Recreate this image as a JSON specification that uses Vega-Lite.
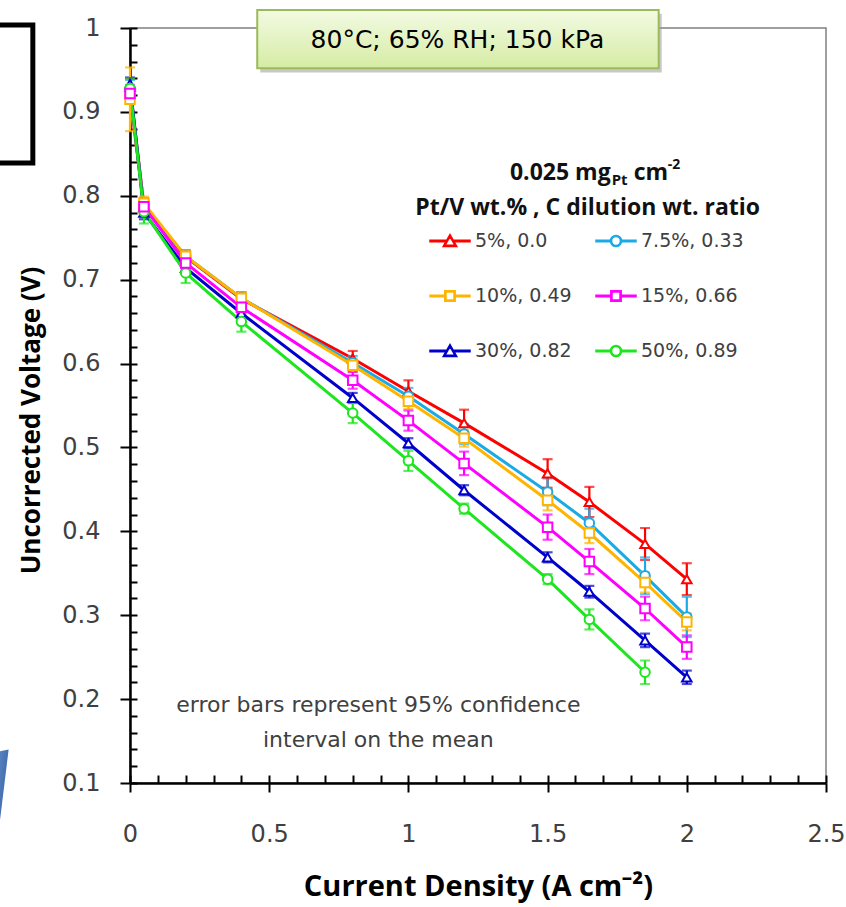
{
 "$schema": "https://vega.github.io/schema/vega-lite/v6.json",
 "width": 696, "height": 755,
 "autosize": {"type": "none"},
 "padding": {"left": 130, "top": 28, "right": 20, "bottom": 124},
 "background": "white",
 "config": {"font": "DejaVu Sans", "view": {"stroke": "#808080", "strokeWidth": 1.5}, "axis": {"grid": false}},
 "datasets": {
  "pts": [
   {"s": "5%, 0.0", "x": 0, "v": 0.93, "e": 0.01},
   {"s": "5%, 0.0", "x": 0.05, "v": 0.787, "e": 0.01},
   {"s": "5%, 0.0", "x": 0.2, "v": 0.727, "e": 0.008},
   {"s": "5%, 0.0", "x": 0.4, "v": 0.677, "e": 0.008},
   {"s": "5%, 0.0", "x": 0.8, "v": 0.606, "e": 0.009},
   {"s": "5%, 0.0", "x": 1.0, "v": 0.567, "e": 0.013},
   {"s": "5%, 0.0", "x": 1.2, "v": 0.529, "e": 0.016},
   {"s": "5%, 0.0", "x": 1.5, "v": 0.469, "e": 0.017},
   {"s": "5%, 0.0", "x": 1.65, "v": 0.435, "e": 0.018},
   {"s": "5%, 0.0", "x": 1.85, "v": 0.385, "e": 0.019},
   {"s": "5%, 0.0", "x": 2.0, "v": 0.343, "e": 0.019},
   {"s": "7.5%, 0.33", "x": 0, "v": 0.928, "e": 0.01},
   {"s": "7.5%, 0.33", "x": 0.05, "v": 0.788, "e": 0.008},
   {"s": "7.5%, 0.33", "x": 0.2, "v": 0.728, "e": 0.007},
   {"s": "7.5%, 0.33", "x": 0.4, "v": 0.678, "e": 0.007},
   {"s": "7.5%, 0.33", "x": 0.8, "v": 0.601, "e": 0.008},
   {"s": "7.5%, 0.33", "x": 1.0, "v": 0.561, "e": 0.01},
   {"s": "7.5%, 0.33", "x": 1.2, "v": 0.516, "e": 0.012},
   {"s": "7.5%, 0.33", "x": 1.5, "v": 0.447, "e": 0.016},
   {"s": "7.5%, 0.33", "x": 1.65, "v": 0.41, "e": 0.017},
   {"s": "7.5%, 0.33", "x": 1.85, "v": 0.347, "e": 0.022},
   {"s": "7.5%, 0.33", "x": 2.0, "v": 0.298, "e": 0.024},
   {"s": "10%, 0.49", "x": 0, "v": 0.915, "e": 0.038},
   {"s": "10%, 0.49", "x": 0.05, "v": 0.791, "e": 0.008},
   {"s": "10%, 0.49", "x": 0.2, "v": 0.728, "e": 0.007},
   {"s": "10%, 0.49", "x": 0.4, "v": 0.678, "e": 0.007},
   {"s": "10%, 0.49", "x": 0.8, "v": 0.598, "e": 0.008},
   {"s": "10%, 0.49", "x": 1.0, "v": 0.555, "e": 0.009},
   {"s": "10%, 0.49", "x": 1.2, "v": 0.511, "e": 0.01},
   {"s": "10%, 0.49", "x": 1.5, "v": 0.437, "e": 0.012},
   {"s": "10%, 0.49", "x": 1.65, "v": 0.398, "e": 0.012},
   {"s": "10%, 0.49", "x": 1.85, "v": 0.339, "e": 0.012},
   {"s": "10%, 0.49", "x": 2.0, "v": 0.292, "e": 0.01},
   {"s": "15%, 0.66", "x": 0, "v": 0.922, "e": 0.01},
   {"s": "15%, 0.66", "x": 0.05, "v": 0.787, "e": 0.008},
   {"s": "15%, 0.66", "x": 0.2, "v": 0.72, "e": 0.007},
   {"s": "15%, 0.66", "x": 0.4, "v": 0.667, "e": 0.008},
   {"s": "15%, 0.66", "x": 0.8, "v": 0.58, "e": 0.01},
   {"s": "15%, 0.66", "x": 1.0, "v": 0.532, "e": 0.012},
   {"s": "15%, 0.66", "x": 1.2, "v": 0.481, "e": 0.014},
   {"s": "15%, 0.66", "x": 1.5, "v": 0.405, "e": 0.015},
   {"s": "15%, 0.66", "x": 1.65, "v": 0.364, "e": 0.015},
   {"s": "15%, 0.66", "x": 1.85, "v": 0.308, "e": 0.014},
   {"s": "15%, 0.66", "x": 2.0, "v": 0.262, "e": 0.014},
   {"s": "30%, 0.82", "x": 0, "v": 0.933, "e": 0.008},
   {"s": "30%, 0.82", "x": 0.05, "v": 0.78, "e": 0.008},
   {"s": "30%, 0.82", "x": 0.2, "v": 0.714, "e": 0.006},
   {"s": "30%, 0.82", "x": 0.4, "v": 0.66, "e": 0.006},
   {"s": "30%, 0.82", "x": 0.8, "v": 0.559, "e": 0.006},
   {"s": "30%, 0.82", "x": 1.0, "v": 0.505, "e": 0.006},
   {"s": "30%, 0.82", "x": 1.2, "v": 0.449, "e": 0.006},
   {"s": "30%, 0.82", "x": 1.5, "v": 0.369, "e": 0.006},
   {"s": "30%, 0.82", "x": 1.65, "v": 0.328, "e": 0.007},
   {"s": "30%, 0.82", "x": 1.85, "v": 0.27, "e": 0.008},
   {"s": "30%, 0.82", "x": 2.0, "v": 0.226, "e": 0.008},
   {"s": "50%, 0.89", "x": 0, "v": 0.928, "e": 0.012},
   {"s": "50%, 0.89", "x": 0.05, "v": 0.781, "e": 0.014},
   {"s": "50%, 0.89", "x": 0.2, "v": 0.708, "e": 0.012},
   {"s": "50%, 0.89", "x": 0.4, "v": 0.65, "e": 0.012},
   {"s": "50%, 0.89", "x": 0.8, "v": 0.541, "e": 0.012},
   {"s": "50%, 0.89", "x": 1.0, "v": 0.484, "e": 0.012},
   {"s": "50%, 0.89", "x": 1.2, "v": 0.427, "e": 0.006},
   {"s": "50%, 0.89", "x": 1.5, "v": 0.343, "e": 0.006},
   {"s": "50%, 0.89", "x": 1.65, "v": 0.295, "e": 0.012},
   {"s": "50%, 0.89", "x": 1.85, "v": 0.232, "e": 0.014}
  ]
 },
 "layer": [
  {
   "data": {"name": "pts"},
   "transform": [{"filter": "false"}],
   "mark": {"type": "point", "filled": true, "fill": "white", "strokeWidth": 1.5, "opacity": 1},
   "encoding": {
    "x": {"field": "x", "type": "quantitative", "scale": {"domain": [0, 2.5], "nice": false, "zero": false}, "axis": null},
    "y": {"field": "v", "type": "quantitative", "scale": {"domain": [0.1, 1], "nice": false, "zero": false}, "axis": null},
    "stroke": {"field": "s", "type": "nominal", "scale": {"domain": ["5%, 0.0", "7.5%, 0.33", "10%, 0.49", "15%, 0.66", "30%, 0.82", "50%, 0.89"], "range": ["#ff0000", "#1aaae6", "#ffb400", "#ff00ff", "#0000cc", "#1ee61e"]},
     "legend": {"orient": "none", "legendX": 299, "legendY": 192, "direction": "horizontal", "columns": 2, "title": null, "symbolSize": 1600, "symbolStrokeWidth": 1.5, "symbolOpacity": 1, "labelFont": "DejaVu Sans", "labelFontSize": 19, "labelColor": "#404040", "labelOffset": 4, "columnPadding": 21, "rowPadding": 24, "padding": 0}},
    "shape": {"field": "s", "type": "nominal",
     "scale": {"domain": ["5%, 0.0", "7.5%, 0.33", "10%, 0.49", "15%, 0.66", "30%, 0.82", "50%, 0.89"], "range": [
      "M-1,-0.035H-0.18V0.035H-1ZM0.18,-0.035H1V0.035H0.18ZM0,-0.32L0.34,0.27H-0.34ZM0,-0.22L-0.25,0.215H0.25Z",
      "M-1,-0.035H-0.28V0.035H-1ZM0.28,-0.035H1V0.035H0.28ZM0.28,0A0.28,0.28 0 1,1 -0.28,0A0.28,0.28 0 1,1 0.28,0ZM0.22,0A0.22,0.22 0 1,0 -0.22,0A0.22,0.22 0 1,0 0.22,0Z",
      "M-1,-0.035H-0.26V0.035H-1ZM0.26,-0.035H1V0.035H0.26ZM-0.26,-0.26H0.26V0.26H-0.26ZM-0.2,-0.2V0.2H0.2V-0.2Z",
      "M-1,-0.035H-0.26V0.035H-1ZM0.26,-0.035H1V0.035H0.26ZM-0.26,-0.26H0.26V0.26H-0.26ZM-0.2,-0.2V0.2H0.2V-0.2Z",
      "M-1,-0.035H-0.18V0.035H-1ZM0.18,-0.035H1V0.035H0.18ZM0,-0.32L0.34,0.27H-0.34ZM0,-0.22L-0.25,0.215H0.25Z",
      "M-1,-0.035H-0.28V0.035H-1ZM0.28,-0.035H1V0.035H0.28ZM0.28,0A0.28,0.28 0 1,1 -0.28,0A0.28,0.28 0 1,1 0.28,0ZM0.22,0A0.22,0.22 0 1,0 -0.22,0A0.22,0.22 0 1,0 0.22,0Z"]},
     "legend": {"orient": "none", "legendX": 299, "legendY": 192, "direction": "horizontal", "columns": 2, "title": null, "symbolSize": 1600, "symbolStrokeWidth": 1.5, "symbolOpacity": 1, "labelFont": "DejaVu Sans", "labelFontSize": 19, "labelColor": "#404040", "labelOffset": 4, "columnPadding": 21, "rowPadding": 24, "padding": 0}}
   }
  },
  {
   "data": {"name": "pts"},
   "mark": {"type": "line", "strokeWidth": 3},
   "encoding": {
    "x": {"field": "x", "type": "quantitative", "scale": {"domain": [0, 2.5], "nice": false, "zero": false},
     "axis": {"orient": "bottom", "values": [0, 0.5, 1, 1.5, 2, 2.5], "format": "~g", "tickSize": 9, "tickWidth": 2, "tickColor": "black", "domainColor": "black", "domainWidth": 2.5, "labelFontSize": 24, "labelColor": "#404040", "labelPadding": 30, "labelFlush": false, "labelOverlap": false, "title": "Current Density (A cm⁻²)", "titleFont": "Open Sans", "titleFontSize": 29, "titleFontWeight": "bold", "titleColor": "black", "titleBaseline": "alphabetic", "titleY": 112, "titleX": 348}},
    "y": {"field": "v", "type": "quantitative", "scale": {"domain": [0.1, 1], "nice": false, "zero": false},
     "axis": {"orient": "left", "values": [0.1, 0.2, 0.3, 0.4, 0.5, 0.6, 0.7, 0.8, 0.9, 1], "format": "~g", "tickSize": 10, "tickWidth": 2, "tickColor": "black", "domainColor": "black", "domainWidth": 2.5, "labelFontSize": 24, "labelColor": "#404040", "labelPadding": 20, "labelFlush": false, "labelOverlap": false, "title": "Uncorrected Voltage (V)", "titleFont": "Open Sans", "titleFontSize": 26, "titleFontWeight": "bold", "titleColor": "black", "titleX": -86, "titleY": 392}},
    "color": {"field": "s", "type": "nominal", "scale": {"domain": ["5%, 0.0", "7.5%, 0.33", "10%, 0.49", "15%, 0.66", "30%, 0.82", "50%, 0.89"], "range": ["#ff0000", "#1aaae6", "#ffb400", "#ff00ff", "#0000cc", "#1ee61e"]}, "legend": null}
   }
  },
  {
   "data": {"name": "pts"},
   "mark": {"type": "errorbar", "ticks": true, "thickness": 2.2, "size": 10},
   "encoding": {
    "x": {"field": "x", "type": "quantitative", "scale": {"domain": [0, 2.5], "nice": false, "zero": false}, "axis": null},
    "y": {"field": "v", "type": "quantitative", "scale": {"domain": [0.1, 1], "nice": false, "zero": false}, "axis": null},
    "yError": {"field": "e"},
    "color": {"field": "s", "type": "nominal", "legend": null}
   }
  },
  {
   "data": {"name": "pts"},
   "transform": [{"filter": {"field": "s", "oneOf": ["5%, 0.0", "30%, 0.82"]}}],
   "mark": {"type": "point", "shape": "triangle-up", "filled": true, "fill": "white", "strokeWidth": 2, "size": 90, "opacity": 1},
   "encoding": {
    "x": {"field": "x", "type": "quantitative", "scale": {"domain": [0, 2.5], "nice": false, "zero": false},
     "axis": {"orient": "bottom", "values": [0, 0.1, 0.2, 0.3, 0.4, 0.5, 0.6, 0.7, 0.8, 0.9, 1, 1.1, 1.2, 1.3, 1.4, 1.5, 1.6, 1.7, 1.8, 1.9, 2, 2.1, 2.2, 2.3, 2.4, 2.5], "tickSize": -8, "tickWidth": 2, "tickColor": "black", "labels": false, "domain": false, "title": null}},
    "y": {"field": "v", "type": "quantitative", "scale": {"domain": [0.1, 1], "nice": false, "zero": false},
     "axis": {"orient": "left", "values": [0.1, 0.12, 0.14, 0.16, 0.18, 0.2, 0.22, 0.24, 0.26, 0.28, 0.3, 0.32, 0.34, 0.36, 0.38, 0.4, 0.42, 0.44, 0.46, 0.48, 0.5, 0.52, 0.54, 0.56, 0.58, 0.6, 0.62, 0.64, 0.66, 0.68, 0.7, 0.72, 0.74, 0.76, 0.78, 0.8, 0.82, 0.84, 0.86, 0.88, 0.9, 0.92, 0.94, 0.96, 0.98, 1], "tickSize": -7, "tickWidth": 2, "tickColor": "black", "labels": false, "domain": false, "title": null}},
    "stroke": {"field": "s", "type": "nominal"}
   }
  },
  {
   "data": {"name": "pts"},
   "transform": [{"filter": {"field": "s", "oneOf": ["7.5%, 0.33", "50%, 0.89"]}}],
   "mark": {"type": "point", "shape": "circle", "filled": true, "fill": "white", "strokeWidth": 2, "size": 90, "opacity": 1},
   "encoding": {
    "x": {"field": "x", "type": "quantitative", "scale": {"domain": [0, 2.5], "nice": false, "zero": false}, "axis": null},
    "y": {"field": "v", "type": "quantitative", "scale": {"domain": [0.1, 1], "nice": false, "zero": false}, "axis": null},
    "stroke": {"field": "s", "type": "nominal"}
   }
  },
  {
   "data": {"name": "pts"},
   "transform": [{"filter": {"field": "s", "oneOf": ["10%, 0.49", "15%, 0.66"]}}],
   "mark": {"type": "point", "shape": "square", "filled": true, "fill": "white", "strokeWidth": 2, "size": 90, "opacity": 1},
   "encoding": {
    "x": {"field": "x", "type": "quantitative", "scale": {"domain": [0, 2.5], "nice": false, "zero": false}, "axis": null},
    "y": {"field": "v", "type": "quantitative", "scale": {"domain": [0.1, 1], "nice": false, "zero": false}, "axis": null},
    "stroke": {"field": "s", "type": "nominal"}
   }
  },
  {
   "data": {"values": [{"x": -0.6, "x2": -0.349, "y": 1.0036, "y2": 0.839}]},
   "mark": {"type": "rect", "fill": null, "fillOpacity": 0, "stroke": "black", "strokeWidth": 5},
   "encoding": {
    "x": {"field": "x", "type": "quantitative", "scale": {"domain": [0, 2.5], "nice": false, "zero": false}, "axis": null},
    "x2": {"field": "x2"},
    "y": {"field": "y", "type": "quantitative", "scale": {"domain": [0.1, 1], "nice": false, "zero": false}, "axis": null},
    "y2": {"field": "y2"}
   }
  },
  {
   "data": {"values": [{"x": -0.48, "y": 0.137, "y2": 0.02}, {"x": -0.436, "y": 0.14, "y2": 0.14}]},
   "mark": {"type": "area", "color": {"gradient": "linear", "x1": 0, "y1": 0, "x2": 1, "y2": 1, "stops": [{"offset": 0, "color": "#5f8ccb"}, {"offset": 1, "color": "#2d5496"}]}},
   "encoding": {
    "x": {"field": "x", "type": "quantitative", "scale": {"domain": [0, 2.5], "nice": false, "zero": false}, "axis": null},
    "y": {"field": "y", "type": "quantitative", "scale": {"domain": [0.1, 1], "nice": false, "zero": false}, "axis": null},
    "y2": {"field": "y2"}
   }
  },
  {
   "data": {"values": [{"x": 0.468, "x2": 1.91, "y": 1.017, "y2": 0.947}]},
   "mark": {"type": "rect", "color": "#9a9a9a", "opacity": 0.55},
   "encoding": {
    "x": {"field": "x", "type": "quantitative", "scale": {"domain": [0, 2.5], "nice": false, "zero": false}, "axis": null},
    "x2": {"field": "x2"},
    "y": {"field": "y", "type": "quantitative", "scale": {"domain": [0.1, 1], "nice": false, "zero": false}, "axis": null},
    "y2": {"field": "y2"}
   }
  },
  {
   "data": {"values": [{"x": 0.457, "x2": 1.899, "y": 1.0215, "y2": 0.952}]},
   "mark": {"type": "rect", "stroke": "#9bbb59", "strokeWidth": 2, "color": {"gradient": "linear", "x1": 0, "y1": 0, "x2": 0, "y2": 1, "stops": [{"offset": 0, "color": "#f3fae3"}, {"offset": 1, "color": "#d5eca4"}]}},
   "encoding": {
    "x": {"field": "x", "type": "quantitative", "scale": {"domain": [0, 2.5], "nice": false, "zero": false}, "axis": null},
    "x2": {"field": "x2"},
    "y": {"field": "y", "type": "quantitative", "scale": {"domain": [0.1, 1], "nice": false, "zero": false}, "axis": null},
    "y2": {"field": "y2"}
   }
  },
  {
   "data": {"values": [{"x": 1.176, "y": 0.9857, "t": "80°C; 65% RH; 150 kPa"}]},
   "mark": {"type": "text", "fontSize": 25, "color": "black", "align": "center", "baseline": "middle"},
   "encoding": {
    "x": {"field": "x", "type": "quantitative", "scale": {"domain": [0, 2.5], "nice": false, "zero": false}, "axis": null},
    "y": {"field": "y", "type": "quantitative", "scale": {"domain": [0.1, 1], "nice": false, "zero": false}, "axis": null},
    "text": {"field": "t"}
   }
  },
  {
   "data": {"values": [{"x": 0.892, "y": 0.193, "t": "error bars represent 95% confidence"}, {"x": 0.892, "y": 0.1514, "t": "interval on the mean"}]},
   "mark": {"type": "text", "fontSize": 22, "color": "#404040", "align": "center", "baseline": "middle"},
   "encoding": {
    "x": {"field": "x", "type": "quantitative", "scale": {"domain": [0, 2.5], "nice": false, "zero": false}, "axis": null},
    "y": {"field": "y", "type": "quantitative", "scale": {"domain": [0.1, 1], "nice": false, "zero": false}, "axis": null},
    "text": {"field": "t"}
   }
  },
  {
   "data": {"values": [{"x": 1.644, "y": 0.7855, "t": "Pt/V wt.% , C  dilution wt. ratio"}]},
   "mark": {"type": "text", "font": "Open Sans", "fontSize": 23, "fontWeight": "bold", "color": "#111111", "align": "center", "baseline": "middle"},
   "encoding": {
    "x": {"field": "x", "type": "quantitative", "scale": {"domain": [0, 2.5], "nice": false, "zero": false}, "axis": null},
    "y": {"field": "y", "type": "quantitative", "scale": {"domain": [0.1, 1], "nice": false, "zero": false}, "axis": null},
    "text": {"field": "t"}
   }
  },
  {
   "data": {"values": [{"x": 1.644, "y": 0.8272, "t": "0.025 mg"}]},
   "mark": {"type": "text", "font": "Open Sans", "fontSize": 23, "fontWeight": "bold", "color": "#111111", "align": "right", "baseline": "middle", "dx": 23},
   "encoding": {
    "x": {"field": "x", "type": "quantitative", "scale": {"domain": [0, 2.5], "nice": false, "zero": false}, "axis": null},
    "y": {"field": "y", "type": "quantitative", "scale": {"domain": [0.1, 1], "nice": false, "zero": false}, "axis": null},
    "text": {"field": "t"}
   }
  },
  {
   "data": {"values": [{"x": 1.644, "y": 0.8272, "t": "Pt"}]},
   "mark": {"type": "text", "font": "Open Sans", "fontSize": 15, "fontWeight": "bold", "color": "#111111", "align": "left", "baseline": "middle", "dx": 24, "dy": 7},
   "encoding": {
    "x": {"field": "x", "type": "quantitative", "scale": {"domain": [0, 2.5], "nice": false, "zero": false}, "axis": null},
    "y": {"field": "y", "type": "quantitative", "scale": {"domain": [0.1, 1], "nice": false, "zero": false}, "axis": null},
    "text": {"field": "t"}
   }
  },
  {
   "data": {"values": [{"x": 1.644, "y": 0.8272, "t": "cm"}]},
   "mark": {"type": "text", "font": "Open Sans", "fontSize": 23, "fontWeight": "bold", "color": "#111111", "align": "left", "baseline": "middle", "dx": 46},
   "encoding": {
    "x": {"field": "x", "type": "quantitative", "scale": {"domain": [0, 2.5], "nice": false, "zero": false}, "axis": null},
    "y": {"field": "y", "type": "quantitative", "scale": {"domain": [0.1, 1], "nice": false, "zero": false}, "axis": null},
    "text": {"field": "t"}
   }
  },
  {
   "data": {"values": [{"x": 1.644, "y": 0.8272, "t": "-2"}]},
   "mark": {"type": "text", "font": "Open Sans", "fontSize": 14, "fontWeight": "bold", "color": "#111111", "align": "left", "baseline": "middle", "dx": 80, "dy": -8},
   "encoding": {
    "x": {"field": "x", "type": "quantitative", "scale": {"domain": [0, 2.5], "nice": false, "zero": false}, "axis": null},
    "y": {"field": "y", "type": "quantitative", "scale": {"domain": [0.1, 1], "nice": false, "zero": false}, "axis": null},
    "text": {"field": "t"}
   }
  }
 ],
 "resolve": {"axis": {"x": "independent", "y": "independent"}}
}
